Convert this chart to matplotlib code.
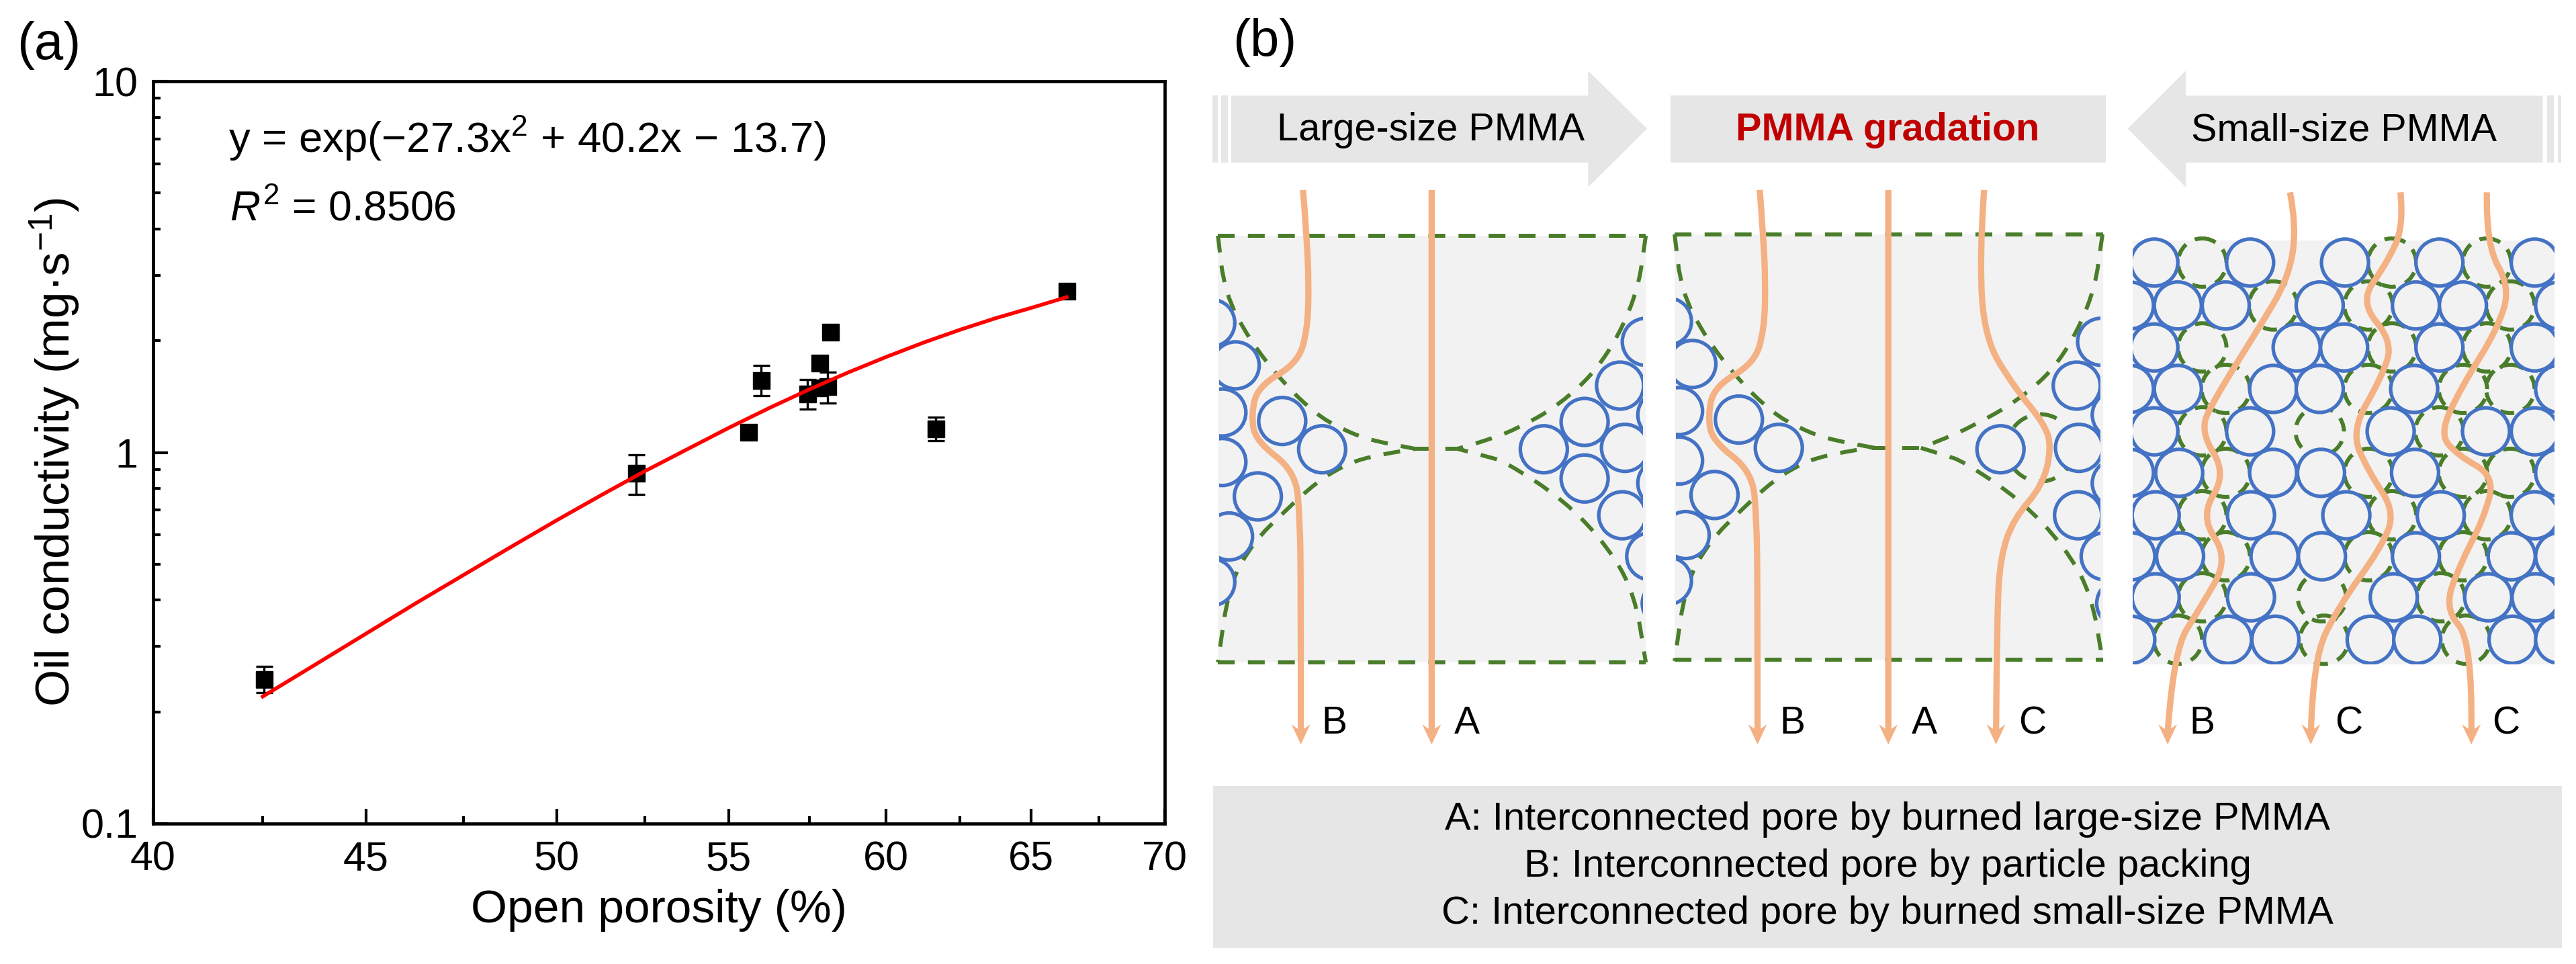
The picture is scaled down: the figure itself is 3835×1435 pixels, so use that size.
import numpy as np
import matplotlib
matplotlib.use('Agg')
import matplotlib.pyplot as plt
from matplotlib.patches import Circle, PathPatch, Polygon, Rectangle
from matplotlib.path import Path
from matplotlib.ticker import FixedLocator, NullFormatter

plt.rcParams['font.family'] = ['Liberation Sans', 'DejaVu Sans']
plt.rcParams['mathtext.fontset'] = 'custom'
plt.rcParams['mathtext.rm'] = 'Liberation Sans'
plt.rcParams['mathtext.it'] = 'Liberation Sans:italic'
plt.rcParams['mathtext.default'] = 'regular'

# Panel (a) data
porosity = [42.53, 52.25, 55.6, 56.0, 57.44, 57.84, 57.84, 58.08, 58.18, 61.68, 66.3]
conductivity = [0.245, 0.882, 1.134, 1.567, 1.442, 1.744, 1.497, 1.509, 2.11, 1.16, 2.73]
err_low = [0.02, 0.112, 0.03, 0.142, 0.132, 0.05, 0.05, 0.148, 0.03, 0.085, 0.04]
err_high = [0.02, 0.103, 0.03, 0.15, 0.132, 0.05, 0.05, 0.138, 0.03, 0.087, 0.04]
fit_x = [42.5, 43.75, 45, 46.25, 47.5, 48.75, 50, 51.25, 52.5, 53.75, 55, 56.25, 57.5,
         58.75, 60, 61.25, 62.5, 63.75, 65, 66.3]
fit_y = [0.22, 0.268, 0.325, 0.392, 0.468, 0.556, 0.656, 0.767, 0.89, 1.02, 1.165, 1.318, 1.478,
         1.642, 1.808, 1.976, 2.14, 2.30, 2.45, 2.62]
x_ticks = [40, 45, 50, 55, 60, 65, 70]
x_minor = [42.5, 47.5, 52.5, 57.5, 62.5, 67.5]
y_ticks = [0.1, 1, 10]
y_labels = ['0.1', '1', '10']

# Panel (b) schematic, read from two crops of the picture
# crop 2 starts at x=1800, crop 3 at x=2800
SX, SY = 1.515, 1.425


def c2(pts):
    return [(1800 + x / SX, y / SY) for x, y in pts]


def c3(pts):
    return [(2800 + x / SX, y / SY) for x, y in pts]


large_left = [(5, 685), (60, 775), (30, 875), (165, 893), (255, 953), (30, 980),
              (110, 1053), (45, 1138), (5, 1235)]
large_right = [(985, 725), (927, 818), (847, 895), (755, 953), (938, 950), (847, 1015),
               (1020, 880), (1020, 1025), (932, 1093), (995, 1180), (1030, 1280)]
mixed_right = [(497, 725), (442, 818), (270, 953), (447, 950), (445, 1093), (505, 1180),
               (540, 1280), (530, 880), (530, 1025)]
small_rows = {
    557: [617, 833, 1047, 1260, 1475],
    648: [562, 670, 778, 990, 1207, 1313, 1530],
    737: [617, 938, 1045, 1260, 1475],
    825: [562, 670, 885, 990, 1203, 1530],
    915: [617, 833, 1150, 1365, 1475],
    1003: [562, 673, 885, 993, 1205, 1530],
    1093: [620, 835, 1050, 1263, 1475],
    1180: [565, 675, 888, 995, 1207, 1423, 1530],
    1267: [620, 835, 1157, 1370, 1477],
    1357: [565, 783, 890, 1105, 1210, 1425, 1530],
}
small_voids = {
    557: [725, 1153, 1367],
    648: [885, 1100, 1420],
    737: [725, 1153, 1367],
    825: [778, 1100, 1313, 1420],
    915: [725, 990, 1260],
    1003: [778, 1100, 1313, 1420],
    1093: [725, 1153, 1367],
    1180: [778, 1100, 1313],
    1267: [725, 995, 1263],
    1357: [670, 1000, 1320],
}

bound_left = [(20, 500), (20, 500), (35, 620), (90, 720), (170, 815), (242, 879), (295, 908), (359, 933),
              (465, 952), (465, 952), (359, 969), (303, 988), (242, 1023), (170, 1085), (100, 1150),
              (45, 1240), (20, 1405), (20, 1405)]
bound_right = [(985, 500), (985, 500), (965, 630), (890, 770), (790, 860), (689, 912), (629, 933),
               (560, 952), (560, 952), (629, 969), (667, 979), (800, 1060), (900, 1160), (960, 1260),
               (985, 1405), (985, 1405)]
bound2_right = [(500, 497), (500, 497), (480, 630), (405, 770), (310, 850), (205, 905), (145, 930),
                (90, 950), (90, 950), (145, 966), (185, 978), (315, 1060), (415, 1160), (475, 1260),
                (500, 1400), (500, 1400)]

path_b1 = [(212, 403), (220, 500), (225, 600), (222, 700), (200, 770), (110, 820), (95, 880),
           (105, 935), (195, 1000), (205, 1100), (207, 1250), (207, 1555)]
path_c2 = [(233, 403), (222, 550), (235, 720), (300, 820), (370, 900), (385, 950), (365, 1030),
           (300, 1100), (270, 1180), (262, 1300), (260, 1555)]
path_b3 = [(923, 408), (938, 480), (920, 590), (850, 700), (750, 850), (720, 915), (780, 1005),
           (720, 1095), (785, 1185), (720, 1290), (660, 1380), (647, 1555)]
path_c3a = [(1172, 408), (1180, 480), (1140, 560), (1080, 640), (1155, 725), (1130, 800), (1060, 915),
            (1100, 1000), (1160, 1085), (1130, 1160), (1030, 1290), (975, 1400), (970, 1555)]
path_c3b = [(1367, 408), (1365, 520), (1420, 610), (1390, 700), (1310, 820), (1260, 920), (1300, 965),
            (1385, 1010), (1360, 1100), (1310, 1190), (1270, 1290), (1335, 1360), (1332, 1555)]

GREEN = '#4a7d2a'
BLUE = '#4472c4'
ORANGE = '#f4b183'
GREY = '#e6e6e6'
PALE = '#f2f2f2'
DASH = (0, (4.2, 3.3))


def bspline_path(pts):
    # quadratic spline: listed points act as control points
    if len(pts) == 2:
        return Path(pts)
    verts = [pts[0]]
    codes = [Path.MOVETO]
    for i in range(1, len(pts) - 1):
        mid = ((pts[i][0] + pts[i + 1][0]) / 2, (pts[i][1] + pts[i + 1][1]) / 2)
        if i == len(pts) - 2:
            mid = pts[-1]
        verts += [pts[i], mid]
        codes += [Path.CURVE3, Path.CURVE3]
    return Path(verts, codes)


def dashed(ax, pts):
    ax.add_patch(PathPatch(bspline_path(pts), fc='none', ec=GREEN, lw=4.3, ls=DASH, zorder=2))


def flow(ax, pts):
    ax.add_patch(PathPatch(bspline_path(pts), fc='none', ec=ORANGE, lw=6.7, zorder=5, capstyle='butt'))
    x, y = pts[-1]
    tip = y + 17
    ax.add_patch(Polygon([(x - 14, tip - 30), (x, tip - 20), (x + 14, tip - 30), (x, tip)],
                         fc=ORANGE, ec='none', zorder=5))


def balls(ax, centers, box, edge=BLUE):
    clip = Rectangle((box[0], box[1]), box[2] - box[0], box[3] - box[1], transform=ax.transData)
    for cx, cy in centers:
        c = Circle((cx, cy), 35, fc=PALE, ec=edge, lw=3.8, zorder=3)
        ax.add_patch(c)
        c.set_clip_path(clip)


fig = plt.figure(figsize=(38.35, 14.35), dpi=100)

# ---- Panel (a) ----
ax = fig.add_axes([228 / 3835, 1 - 1226 / 1435, (1734 - 228) / 3835, (1226 - 121) / 1435])
ax.errorbar(porosity, conductivity, yerr=[err_low, err_high], fmt='none', ecolor='black',
            elinewidth=2.4, capsize=9, capthick=2.4, zorder=2)
ax.plot(porosity, conductivity, 's', color='black', ms=18, zorder=3)
ax.plot(fit_x, fit_y, color='#ff0000', lw=4, zorder=4)
ax.set_xscale('log')
ax.set_yscale('log')
ax.set_xlim(40, 70)
ax.set_ylim(0.1, 10)
ax.xaxis.set_major_locator(FixedLocator(x_ticks))
ax.xaxis.set_minor_locator(FixedLocator(x_minor))
ax.xaxis.set_major_formatter(plt.FixedFormatter([str(t) for t in x_ticks]))
ax.xaxis.set_minor_formatter(NullFormatter())
ax.yaxis.set_major_locator(FixedLocator(y_ticks))
ax.yaxis.set_major_formatter(plt.FixedFormatter(y_labels))
ax.yaxis.set_minor_formatter(NullFormatter())
ax.tick_params(which='major', direction='in', length=16, width=3, labelsize=44, pad=16)
ax.tick_params(which='minor', direction='in', length=8, width=3)
ax.tick_params(axis='x', which='major', pad=18)
for s in ax.spines.values():
    s.set_linewidth(3.4)
ax.set_xlabel('Open porosity (%)', fontsize=50, labelpad=11)
ax.set_ylabel('Oil conductivity (mg·s$^{-1}$)', fontsize=51, labelpad=-1)
fig.text(340 / 3835, 1 - 227 / 1435, 'y = exp(−27.3x$^{2}$ + 40.2x − 13.7)', fontsize=45.7, va='baseline')
fig.text(342 / 3835, 1 - 328 / 1435, '$\\mathit{R}^{2}$ = 0.8506', fontsize=45, va='baseline')
fig.text(73 / 3835, 1 - 68 / 1435, '(a)', fontsize=56, ha='center', va='center')

# ---- Panel (b), drawn on a pixel-sized overlay ----
bx = fig.add_axes([0, 0, 1, 1], facecolor='none')
bx.set_xlim(0, 3835)
bx.set_ylim(1435, 0)
bx.axis('off')

bx.text(*c2([(125, 90)])[0], '(b)', fontsize=56, ha='center', va='center')

# header arrows and bar
bx.add_patch(Polygon(c2([(50, 203), (855, 203), (855, 150), (988, 273), (855, 397), (855, 345), (50, 345)]),
                     fc=GREY, ec='none'))
for a, b in [(8, 20), (27, 43)]:
    bx.add_patch(Polygon(c2([(a, 203), (b, 203), (b, 345), (a, 345)]), fc=GREY, ec='none'))
bx.add_patch(Polygon(c3([(1493, 203), (688, 203), (688, 150), (557, 273), (688, 397), (688, 345), (1493, 345)]),
                     fc=GREY, ec='none'))
for a, b in [(1503, 1518), (1527, 1535)]:
    bx.add_patch(Polygon(c3([(a, 203), (b, 203), (b, 345), (a, 345)]), fc=GREY, ec='none'))
left = c2([(1041, 203)])[0]
right = c3([(507, 345)])[0]
bx.add_patch(Rectangle(left, right[0] - left[0], right[1] - left[1], fc=GREY, ec='none'))
bx.text(*c2([(500, 277)])[0], 'Large-size PMMA', fontsize=41.5, ha='center', va='center')
bx.text(2810, 277 / SY, 'PMMA gradation', fontsize=41.5, ha='center', va='center', color='#c00000', weight='bold')
bx.text(*c3([(1045, 277)])[0], 'Small-size PMMA', fontsize=41.5, ha='center', va='center')

# first square
p0, p1 = c2([(20, 500)])[0], c2([(985, 1405)])[0]
bx.add_patch(Rectangle(p0, p1[0] - p0[0], p1[1] - p0[1], fc=PALE, ec='none', zorder=1))
dashed(bx, c2([(20, 500), (985, 500)]))
dashed(bx, c2([(20, 1405), (985, 1405)]))
dashed(bx, c2(bound_left))
dashed(bx, c2(bound_right))
dashed(bx, c2([(465, 952), (560, 952)]))
box = (1800 + 22 / SX, 0, 1800 + 978 / SX, 1435)
balls(bx, c2(large_left + large_right), box)
flow(bx, c2(path_b1))
flow(bx, c2([(502, 403), (502, 1000), (502, 1555)]))

# second square
off = [(x + 1030, y - 3) for x, y in large_left]
p0, p1 = c2([(1050, 497)])[0], c3([(502, 1400)])[0]
bx.add_patch(Rectangle(p0, p1[0] - p0[0], p1[1] - p0[1], fc=PALE, ec='none', zorder=1))
dashed(bx, [p0, (p1[0], p0[1])])
dashed(bx, [(p0[0], p1[1]), p1])
dashed(bx, c2([(x + 1030, y - 3) for x, y in bound_left]))
dashed(bx, c3(bound2_right))
dashed(bx, [c2([(1495, 950)])[0], c3([(90, 950)])[0]])
bx.add_patch(PathPatch(Path.circle(c3([(360, 950)])[0], 50), fc='none', ec=GREEN, lw=4.3, ls=DASH, zorder=2))
balls(bx, c2(off), (1800 + 1053 / SX, 0, 3000, 1435))
balls(bx, c3(mixed_right), (2900, 0, 2800 + 495 / SX, 1435))
flow(bx, c2([(x + 1030, y) for x, y in path_b1]))
flow(bx, c2([(1532, 403), (1532, 1000), (1532, 1555)]))
flow(bx, c3(path_c2))

# third square
p0, p1 = c3([(568, 510)])[0], c3([(1520, 1410)])[0]
bx.add_patch(Rectangle(p0, p1[0] - p0[0], p1[1] - p0[1], fc=PALE, ec='none', zorder=1))
for ry, xs in small_voids.items():
    for x in xs:
        v = PathPatch(Path.circle(c3([(x, ry)])[0], 36), fc='none', ec=GREEN, lw=4.3, ls=(0, (3.5, 2.5)), zorder=2)
        bx.add_patch(v)
small = [(x, ry) for ry, xs in small_rows.items() for x in xs]
balls(bx, c3(small), (p0[0], 0, p1[0], p1[1]))
flow(bx, c3(path_b3))
flow(bx, c3(path_c3a))
flow(bx, c3(path_c3b))

# path letters
for (x, y), s in zip(c2([(282, 1535), (582, 1535), (1315, 1535)]), ['B', 'A', 'B']):
    bx.text(x, y, s, fontsize=41, ha='center', va='center')
for (x, y), s in zip(c3([(98, 1535), (342, 1535), (725, 1535), (1055, 1535), (1410, 1535)]),
                     ['A', 'C', 'B', 'C', 'C']):
    bx.text(x, y, s, fontsize=41, ha='center', va='center')

# legend box
bx.add_patch(Rectangle((1806, 1170), 3814 - 1806, 1411 - 1170, fc=GREY, ec='none'))
legend_lines = ['A: Interconnected pore by burned large-size PMMA',
                'B: Interconnected pore by particle packing',
                'C: Interconnected pore by burned small-size PMMA']
for y, s in zip([1220, 1290, 1360], legend_lines):
    bx.text(2810, y, s, fontsize=41.8, ha='center', va='center')

fig.savefig('out.png', dpi=100)
